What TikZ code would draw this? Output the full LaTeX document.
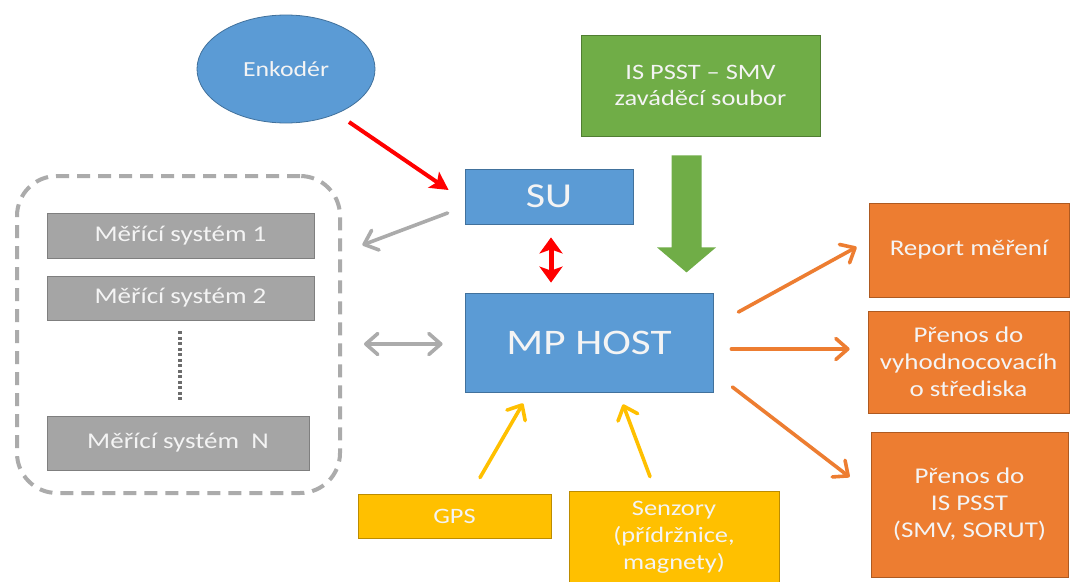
\documentclass[tikz,border=0pt]{standalone}
\usepackage{fontspec}
\setmainfont{Carlito}[FakeStretch=1.2]
\usetikzlibrary{arrows.meta,shapes.geometric}
\definecolor{cblue}{HTML}{5B9BD5}
\definecolor{cblueb}{HTML}{41719C}
\definecolor{cgreen}{HTML}{70AD47}
\definecolor{cgreenb}{HTML}{507E32}
\definecolor{corange}{HTML}{ED7D31}
\definecolor{coranb}{HTML}{AE5A21}
\definecolor{cyellow}{HTML}{FFC000}
\definecolor{cyellb}{HTML}{BC8C00}
\definecolor{cgray}{HTML}{A5A5A5}
\definecolor{cgrayb}{HTML}{7F7F7F}
\definecolor{clgray}{HTML}{ABABAB}
\definecolor{cred}{HTML}{FF0000}
\definecolor{ctext}{HTML}{F4F4F4}
\tikzset{
  box/.style={draw, line width=0.8, text=ctext, align=center, inner sep=0},
  bluebox/.style={box, fill=cblue, draw=cblueb},
  greenbox/.style={box, fill=cgreen, draw=cgreenb},
  orangebox/.style={box, fill=corange, draw=coranb},
  yellowbox/.style={box, fill=cyellow, draw=cyellb},
  graybox/.style={box, fill=cgray, draw=cgrayb},
  barb/.tip={Straight Barb[length=12,width=21,line width=3.6, round]},
  openarrow/.style={line width=3.6, line cap=round, -barb},
  grayarrow/.style={openarrow, draw=clgray},
  orangearrow/.style={openarrow, draw=corange},
  yellowarrow/.style={openarrow, draw=cyellow},
}
\begin{document}
\begin{tikzpicture}[x=1pt,y=-1pt]
\useasboundingbox[fill=white] (0,0) rectangle (1070,581);

% input sources
\node[bluebox, ellipse, minimum width=178, minimum height=108, font=\fontsize{21.5}{26}\selectfont] (enc) at (286,69) {Enkodér};
\node[greenbox, minimum width=239, minimum height=101, font=\fontsize{22}{26}\selectfont] (isp) at (700.5,85.5) {IS PSST – SMV\\zaváděcí soubor};

% central units
\node[bluebox, minimum width=168, minimum height=55, font=\fontsize{35}{40}\selectfont] (su) at (549,196.5) {SU};
\node[bluebox, minimum width=248, minimum height=99, font=\fontsize{36}{40}\selectfont] (host) at (589,342.5) {MP HOST};

% measuring systems group
\node[draw=clgray, line width=4, dash pattern=on 13 off 8, rounded corners=40, minimum width=323, minimum height=317] (grp) at (178.5,334.5) {};
\node[graybox, minimum width=267, minimum height=45, font=\fontsize{22.5}{26}\selectfont] (ms1) at (180.5,235.5) {Měřící systém 1};
\node[graybox, minimum width=267, minimum height=44, font=\fontsize{22.5}{26}\selectfont] (ms2) at (180.5,298) {Měřící systém 2};
\node[graybox, minimum width=262, minimum height=54, font=\fontsize{22.5}{26}\selectfont] (msn) at (178,443) {Měřící systém~~N};
\draw[cgrayb!85!black, line width=3.5, dash pattern=on 3 off 2.5] ([shift={(-0.5,11)}]ms2.south) -- ([shift={(2,-16)}]msn.north);

% outputs
\node[orangebox, minimum width=200, minimum height=94, font=\fontsize{22.5}{27}\selectfont] (rep) at (969,250) {Report měření};
\node[orangebox, minimum width=201, minimum height=102, font=\fontsize{22.5}{27}\selectfont] (pr1) at (968.5,362) {Přenos do\\vyhodnocovacíh\\o střediska};
\node[orangebox, minimum width=197, minimum height=145, font=\fontsize{22.5}{27}\selectfont] (pr2) at (969.5,504.5) {Přenos do\\IS PSST\\(SMV, SORUT)};

% sensors
\node[yellowbox, minimum width=193, minimum height=44, font=\fontsize{22}{26}\selectfont] (gps) at (454.5,516) {GPS};
\node[yellowbox, minimum width=210, minimum height=92, font=\fontsize{22}{27}\selectfont] (sen) at (674,537) {Senzory\\(přídržnice,\\magnety)};

% red connectors
\draw[cred, line width=4, -{Stealth[length=18,width=19,inset=4]}] ([shift={(63,53)}]enc.center) -- ([shift={(-16,-6.5)}]su.west);
\draw[cred, line width=5, {Stealth[length=16,width=23,inset=4]}-{Stealth[length=16,width=23,inset=4]}] ([shift={(2,13)}]su.south) -- ([shift={(-38,-10)}]host.north);

% large green arrow
\coordinate (gtop) at ([shift={(-14,19)}]isp.south);
\fill[cgreen] ([shift={(-15,0)}]gtop) -- ([shift={(15,0)}]gtop) -- ([shift={(15,92)}]gtop) -- ([shift={(29.5,92)}]gtop)
  -- ([shift={(0,117)}]gtop) -- ([shift={(-29.5,92)}]gtop) -- ([shift={(-15,92)}]gtop) -- cycle;

% grey connectors
\draw[grayarrow] ([shift={(-17,16.5)}]su.west) -- ([shift={(48,9.5)}]ms1.east);
\draw[grayarrow, barb-barb] ([shift={(22,9.5)}]grp.east) -- ([shift={(-22,1.5)}]host.west);

% orange connectors
\draw[orangearrow] ([shift={(25,-30.5)}]host.east) -- ([shift={(-12,-3)}]rep.west);
\draw[orangearrow] ([shift={(18,6.5)}]host.east) -- ([shift={(-18,-13)}]pr1.west);
\draw[orangearrow] ([shift={(19,44.5)}]host.east) -- ([shift={(-21,-27.5)}]pr2.west);

% yellow connectors
\draw[yellowarrow] ([shift={(25.5,-16)}]gps.north) -- ([shift={(-66,11)}]host.south);
\draw[yellowarrow] ([shift={(-24,-14)}]sen.north) -- ([shift={(34,12)}]host.south);
\end{tikzpicture}
\end{document}
